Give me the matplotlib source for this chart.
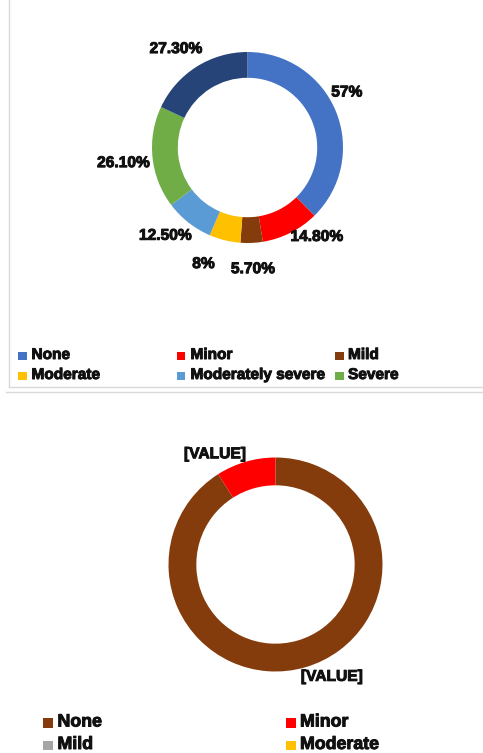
import numpy as np
import matplotlib
matplotlib.use("Agg")
import matplotlib.pyplot as plt
from matplotlib.patches import Rectangle
import matplotlib.patheffects as pe

plt.rcParams['font.family'] = ['Liberation Sans', 'DejaVu Sans']

# upper ring
top_cats = ['None', 'Minor', 'Mild', 'Moderate', 'Moderately severe', 'Severe', 'Extreme']
top_vals = [57, 14.8, 5.7, 8, 12.5, 26.1, 27.3]
top_colors = ['#4472C4', '#FF0000', '#843C0C', '#FFC000', '#5B9BD5', '#70AD47', '#264478']

# lower ring
bot_cats = ['None', 'Minor', 'Mild', 'Moderate']
bot_vals = [91, 9, 0, 0]
bot_text = ['[VALUE]', '[VALUE]', '', '']
bot_colors = ['#843C0C', '#FF0000', '#A5A5A5', '#FFC000']

# label placement: clockwise shift from wedge middle (deg), distance in radii
top_shift = [-7, -11, 0, 7, 5, -1, -3.5]
top_rad = [1.19, 1.18, 1.27, 1.30, 1.26, 1.31, 1.28]
bot_shift = [-10.5, -12.5, 0, 0]
bot_rad = [1.17, 1.18, 1.2, 1.2]

W, H = 483, 753
fig = plt.figure(figsize=(W / 100, H / 100), dpi=100)

ink = '#111111'
heavy = [pe.withStroke(linewidth=0.7, foreground=ink)]

# full-figure pixel axes for frame lines and legends
ov = fig.add_axes([0, 0, 1, 1])
ov.set_xlim(0, W)
ov.set_ylim(H, 0)
ov.axis('off')

grid = '#D9D9D9'
ov.plot([8.5, 8.5], [0, 387], color=grid, lw=1)
ov.plot([8.5, W], [387, 387], color=grid, lw=1)
ov.plot([6, W], [392, 392], color=grid, lw=1)


def fmt_pct(v):
    return f'{v:.0f}%' if float(v).is_integer() else f'{v:.2f}%'


def donut(cx, cy, R, half, vals, colors, texts, width, shifts, rads):
    ax = fig.add_axes([(cx - half) / W, 1 - (cy + half) / H, 2 * half / W, 2 * half / H])
    wedges, _ = ax.pie(vals, colors=colors, startangle=90, counterclock=False,
                       wedgeprops=dict(width=width, linewidth=0))
    lim = half / R
    ax.set_xlim(-lim, lim)
    ax.set_ylim(-lim, lim)
    ax.set_aspect('auto')
    ax.axis('off')
    for w, v, t, s, r in zip(wedges, vals, texts, shifts, rads):
        if v == 0 or not t:
            continue
        a = np.deg2rad((w.theta1 + w.theta2) / 2 - s)
        ax.text(r * np.cos(a), r * np.sin(a), t, ha='center', va='center',
                fontsize=11.2, fontweight='bold', color=ink, path_effects=heavy)
    return ax


donut(247.5, 147.5, 95.5, 140, top_vals, top_colors,
      [fmt_pct(v) for v in top_vals], 0.27, top_shift, top_rad)
donut(275.5, 564.5, 107, 140, bot_vals, bot_colors,
      bot_text, 0.26, bot_shift, bot_rad)


def legend_grid(names, colors, x_sq, x_txt, rows, sq, fs):
    ncol = len(x_sq)
    for i, (n, c) in enumerate(zip(names, colors)):
        r, k = divmod(i, ncol)
        y = rows[r]
        ov.add_patch(Rectangle((x_sq[k], y - sq / 2 + 1), sq, sq, color=c, lw=0))
        ov.text(x_txt[k], y, n, ha='left', va='center', fontsize=fs,
                fontweight='bold', color=ink, path_effects=heavy)


legend_grid(top_cats[:6], top_colors[:6], [18.3, 176.7, 335], [31.5, 190.5, 348],
            [355, 375], 8.5, 11.1)
legend_grid(bot_cats, bot_colors, [43.3, 286], [57.5, 300],
            [722, 744.5], 9.5, 12.8)

fig.savefig('out.png', dpi=100)
